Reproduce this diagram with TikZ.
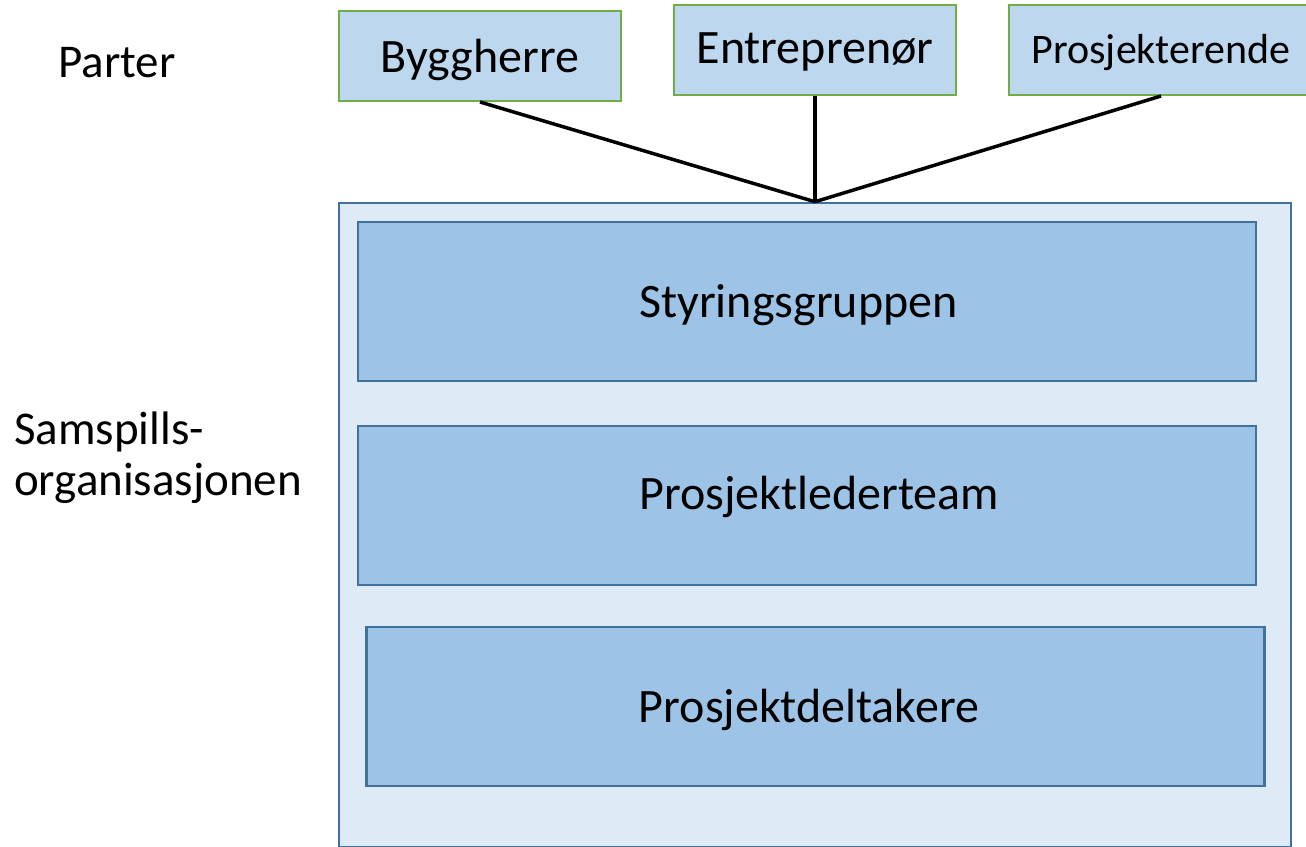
\documentclass[tikz,border=0pt]{standalone}
\usepackage{fontspec}
\setmainfont{Carlito}
\definecolor{partfill}{HTML}{BDD7EE}
\definecolor{partline}{HTML}{70AD47}
\definecolor{orgfill}{HTML}{DEEBF7}
\definecolor{grpfill}{HTML}{9DC3E6}
\definecolor{grpline}{HTML}{41719C}
\begin{document}
\begin{tikzpicture}[x=1pt,y=-1pt,
    part/.style={draw=partline,fill=partfill,line width=2pt,minimum height=90pt,inner sep=0pt},
    grp/.style={draw=grpline,fill=grpfill,line width=2.5pt,minimum width=898pt,minimum height=159pt,inner sep=0pt},
    boxtext/.style={inner sep=0pt,font=\fontsize{48}{56}\selectfont},
    sidetext/.style={anchor=west,inner sep=0pt,align=left,font=\fontsize{47}{51}\selectfont}]
    \useasboundingbox (0,0) rectangle (1306,846);

    % samspillsorganisasjonen
    \node[draw=grpline,fill=orgfill,line width=2.5pt,minimum width=952pt,minimum height=644pt,inner sep=0pt] (samspill) at (815,525) {};
    \node[grp,label={[boxtext,xshift=-8.5pt,yshift=-4pt]center:Styringsgruppen}] (styring) at (807,301.5) {};
    \node[grp,label={[boxtext,xshift=12pt,yshift=9pt]center:Prosjektlederteam}] (ledere) at (807,505.5) {};
    \node[grp,label={[boxtext,xshift=-6.5pt,yshift=-3pt]center:Prosjektdeltakere}] (deltakere) at (815.5,706.5) {};

    % parter
    \node[part,minimum width=282pt,label={[boxtext,yshift=-4pt]center:Byggherre}] (bygg) at (480,56) {};
    \node[part,minimum width=282pt,label={[boxtext,yshift=-2pt]center:Entreprenør}] (entr) at (815,50) {};
    \node[part,minimum width=304pt,label={[boxtext,yshift=-3pt,font=\fontsize{42}{48}\selectfont]center:Prosjekterende}] (prosj) at (1161,50) {};

    \draw[line width=3.5pt] (bygg.south) -- (samspill.north);
    \draw[line width=3.5pt] (entr.south) -- (samspill.north);
    \draw[line width=3.5pt] (prosj.south) -- (samspill.north);

    \node[sidetext] (parter) at (58,63) {Parter};
    \node[sidetext] (org) at (14,458) {Samspills-\\organisasjonen};
\end{tikzpicture}
\end{document}
